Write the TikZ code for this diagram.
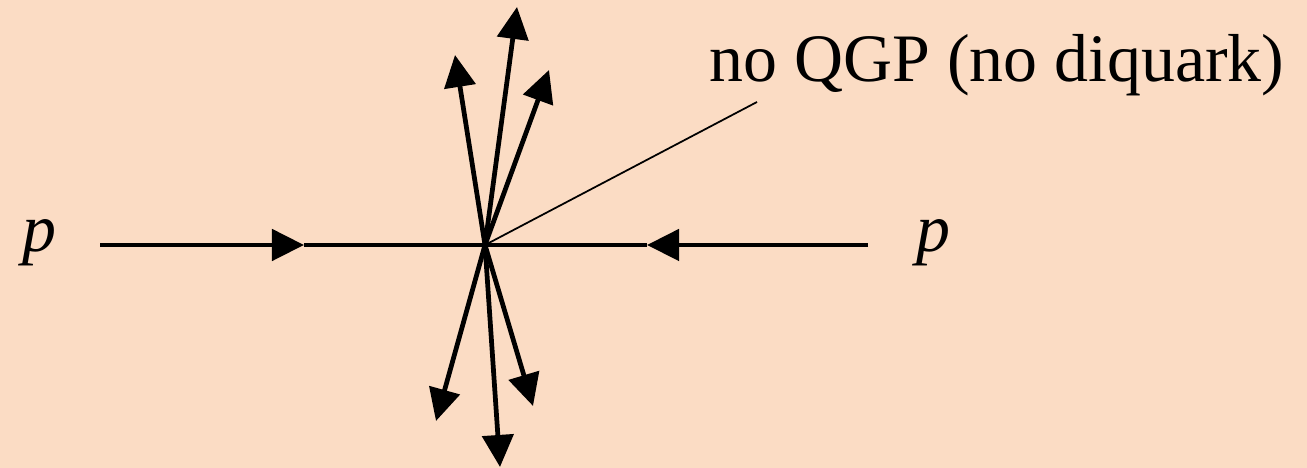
\documentclass[tikz,border=0pt]{standalone}
\usepackage{fontspec}
\setmainfont{Liberation Serif}
\usetikzlibrary{arrows.meta}
\definecolor{peach}{RGB}{251,220,196}
\tikzset{
  track/.style={line width=1.35pt,-{Triangle[length=0.32cm,width=0.31cm]}},
  beam/.style={line width=1.35pt}
}
\begin{document}
\begin{tikzpicture}[x=0.01cm,y=0.01cm,font=\fontsize{19.3}{23}\selectfont]
    \fill[peach] (0,0) rectangle (1307,468);
    \useasboundingbox (0,0) rectangle (1307,468);
    % Punto d'urto e fasci
    \coordinate (C) at (485,223);
    \coordinate (A) at (100,223);
    \coordinate (B) at (868,223);
    \coordinate (MA) at (304,223);
    \coordinate (MB) at (647,223);
    
    \node (pl) at (39,225) {\textit{p}};
    \node (pr) at (933,225) {\textit{p}};
    
    \draw[track] (A) -- (MA);
    \draw[beam] (MA) -- (C);
    \draw[track] (B) -- (MB);
    \draw[beam] (MB) -- (C);
    
    % Particelle prodotte
    \coordinate (U1) at (517,461);
    \coordinate (U2) at (455,413);
    \coordinate (U3) at (549,398);
    \coordinate (D1) at (436,47);
    \coordinate (D2) at (500,1);
    \coordinate (D3) at (533,62);
    \foreach \t in {U1,U2,U3,D1,D2,D3}
      \draw[track] (C) -- (\t);
    
    % Etichetta
    \node (lab) at (997,403) {no QGP (no diquark)};
    \coordinate (L) at (757,366);
    \draw[line width=0.5pt] (C) -- (L);
\end{tikzpicture}
\end{document}
